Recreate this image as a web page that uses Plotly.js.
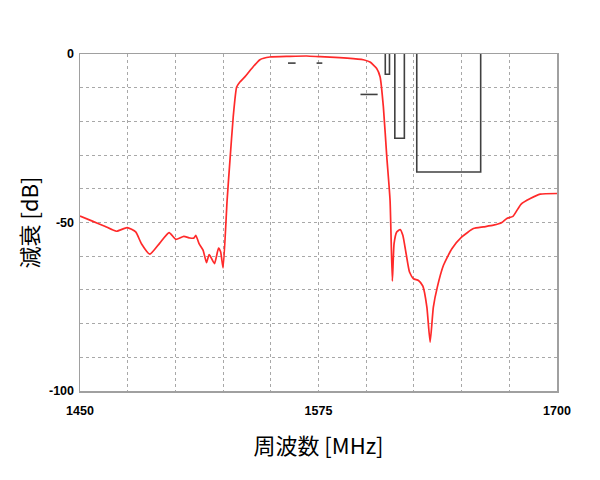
<!DOCTYPE html>
<html>
<head>
<meta charset="utf-8">
<script src="https://cdn.plot.ly/plotly-3.0.1.min.js"></script>
<style>
  html, body { margin: 0; padding: 0; background: #fff; }
  #chart { width: 600px; height: 480px; }
</style>
</head>
<body>
<div id="chart"></div>
<script>
// measured response (MHz, dB)
const freq = [
  1450, 1456.5, 1463, 1469.1, 1474.7, 1479.2, 1482.2, 1486.6, 1491.8, 1496.7,
  1500.2, 1504.4, 1507.6, 1509.7, 1510.7, 1512.4, 1514.5, 1516.3, 1517.7, 1520.5,
  1522.6, 1523.7, 1525.0, 1527.1, 1528.6, 1530.3, 1532.1, 1533.8, 1536.4, 1540,
  1544.3, 1549.5, 1560, 1568.8, 1575.8, 1581, 1590, 1598.5, 1602, 1605.5,
  1607.3, 1609, 1610.8, 1612.5, 1613.7, 1614.6, 1616, 1617.8, 1619.2, 1620.9,
  1622.7, 1624.8, 1627.4, 1629.7, 1631.8, 1633.5, 1635.2, 1637.3, 1640.5, 1644.9,
  1650.1, 1656.2, 1661.5, 1666.7, 1671.1, 1673.7, 1676.9, 1681.1, 1686, 1691.2,
  1700,
];
const atten = [
  -48.1, -49.6, -51.1, -52.6, -51.5, -52.8, -56.3, -59.4, -56.1, -53.0,
  -55.0, -54.1, -54.6, -54.6, -53.8, -56.3, -58.2, -61.9, -59.5, -62.2,
  -57.6, -58.7, -63.5, -43.4, -31.5, -18.7, -9.8, -8.3, -6.8, -4.3,
  -1.7, -0.9, -0.7, -0.6, -0.8, -0.9, -1.2, -1.7, -2.4, -4.3,
  -6.8, -15.7, -30.6, -43.4, -67.4, -56.3, -52.8, -52.1, -53.8, -59.2,
  -64.7, -66.7, -67.2, -68.9, -75.1, -85.5, -75.1, -69.1, -62.7, -57.8,
  -54.3, -51.8, -51.3, -50.8, -50.0, -48.8, -48.2, -44.6, -42.9, -41.6,
  -41.4,
];

// spec mask segments, null separates pieces
const maskFreq = [
  1559, 1563, null,
  1574, 1577, null,
  1597, 1606, null,
  1610, 1610, 1612.2, 1612.2, null,
  1615, 1615, 1620, 1620, null,
  1626.5, 1626.5, 1660, 1660,
];
const maskAtten = [
  -2.7, -2.7, null,
  -2.7, -2.7, null,
  -12, -12, null,
  0, -6, -6, 0, null,
  0, -25, -25, 0, null,
  0, -35, -35, 0,
];

const xTicks = [1450, 1475, 1500, 1525, 1550, 1575, 1600, 1625, 1650, 1675, 1700];
const xLabels = ["1450", "", "", "", "", "1575", "", "", "", "", "1700"];
const yTicks = [0, -10, -20, -30, -40, -50, -60, -70, -80, -90, -100];
const yLabels = ["0", "", "", "", "", "-50", "", "", "", "", "-100"];

const titleFont = { family: "Noto Sans CJK JP, sans-serif", size: 22, color: "#000" };

const gridStyle = {
  showgrid: true,
  gridcolor: "#a8a8a8",
  griddash: "dot",
  gridwidth: 1,
  zeroline: false,
  showline: true,
  linecolor: "#a0a0a0",
  linewidth: 1.5,
  mirror: true,
  ticks: "outside",
  tickcolor: "rgba(0,0,0,0)",
  tickfont: { family: "Liberation Sans, Arial, sans-serif", size: 12.5, color: "#000", weight: "bold" },
};

const traces = [
  {
    type: "scatter",
    mode: "lines",
    x: maskFreq,
    y: maskAtten,
    connectgaps: false,
    line: { color: "#404040", width: 1.6 },
    hoverinfo: "skip",
  },
  {
    type: "scatter",
    mode: "lines",
    x: freq,
    y: atten,
    line: { color: "#ff2a2a", width: 1.7, shape: "spline", smoothing: 0.5 },
  },
];

const layout = {
  width: 600,
  height: 480,
  margin: { l: 80, r: 43, t: 54, b: 89 },
  paper_bgcolor: "#fff",
  plot_bgcolor: "#fff",
  showlegend: false,
  xaxis: {
    ...gridStyle,
    range: [1450, 1700],
    tickmode: "array",
    tickvals: xTicks,
    ticktext: xLabels,
    ticklen: 7,
    title: { text: "周波数 [MHz]", font: titleFont, standoff: 22 },
  },
  yaxis: {
    ...gridStyle,
    range: [-100, 0],
    tickmode: "array",
    tickvals: yTicks,
    ticktext: yLabels,
    ticklen: 2,
    title: { text: "減衰 [dB]", font: titleFont, standoff: 4 },
  },
};

Plotly.newPlot("chart", traces, layout, { displayModeBar: false, staticPlot: true });
</script>
</body>
</html>
